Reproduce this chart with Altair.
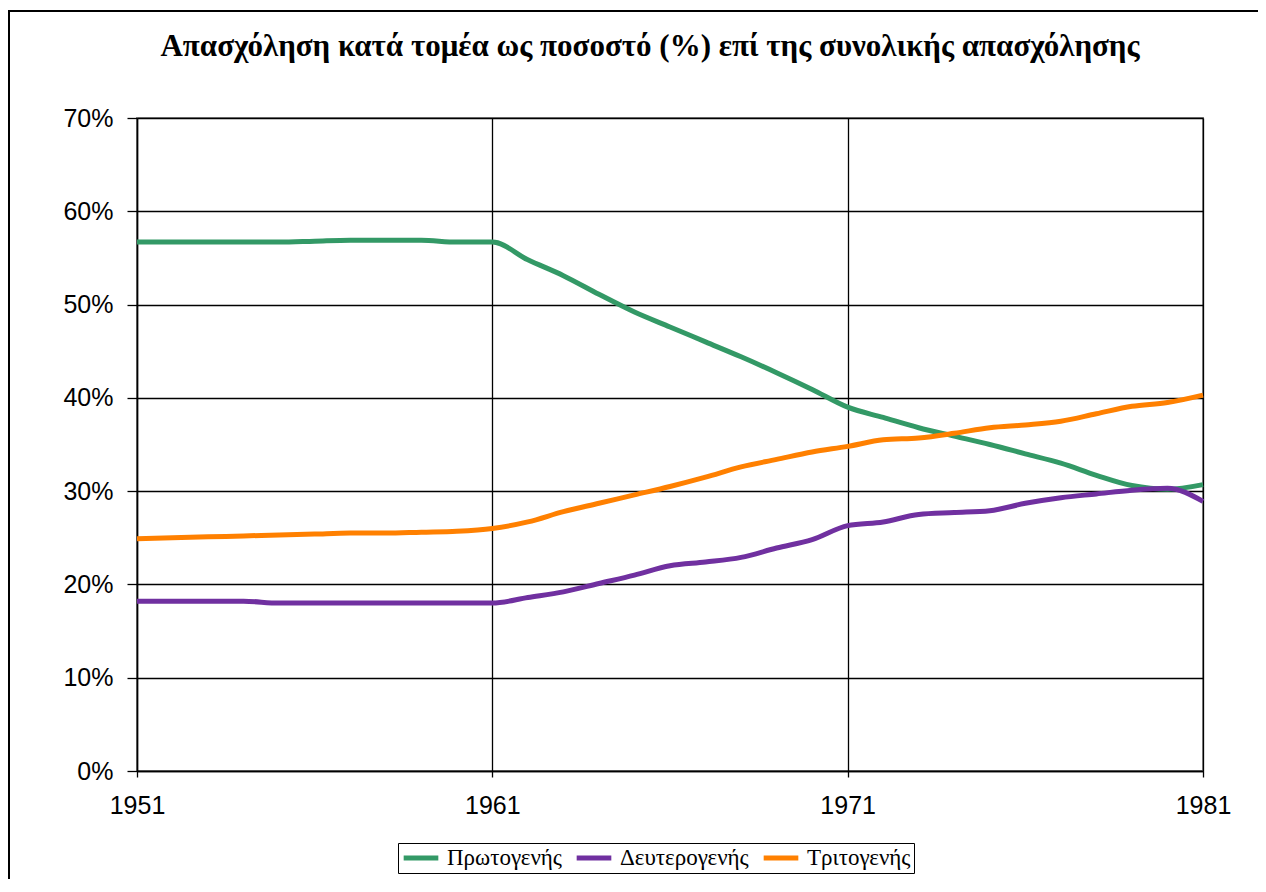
import altair as alt
import pandas as pd

years = list(range(1951, 1982))
sectors = ["Πρωτογενής", "Δευτερογενής", "Τριτογενής"]
colors = ["#339966", "#7030A0", "#FF8000"]

primary = [56.7, 56.7, 56.7, 56.7, 56.7, 56.8, 56.9, 56.9, 56.9, 56.7, 56.7,
           54.8, 53.1, 51.1, 49.2, 47.6, 46.0, 44.4, 42.7, 40.9, 39.0,
           37.9, 36.8, 35.9, 35.0, 34.0, 33.0, 31.7, 30.6, 30.2, 30.7]
secondary = [18.2, 18.2, 18.2, 18.2, 18.0, 18.0, 18.0, 18.0, 18.0, 18.0, 18.0,
             18.6, 19.2, 20.1, 21.0, 22.0, 22.4, 22.9, 23.9, 24.8, 26.3,
             26.7, 27.5, 27.7, 27.9, 28.7, 29.3, 29.7, 30.1, 30.3, 28.9]
tertiary = [24.9, 25.0, 25.1, 25.2, 25.3, 25.4, 25.5, 25.5, 25.6, 25.7, 26.0,
            26.7, 27.8, 28.7, 29.6, 30.5, 31.5, 32.6, 33.4, 34.2, 34.8,
            35.5, 35.7, 36.2, 36.8, 37.1, 37.5, 38.3, 39.1, 39.5, 40.3]
x_ticks = [1951, 1961, 1971, 1981]
y_ticks = [0, 10, 20, 30, 40, 50, 60, 70]
title_text = "Απασχόληση κατά τομέα ως ποσοστό (%) επί της συνολικής απασχόλησης"

rows = []
for name, vals in zip(sectors, [primary, secondary, tertiary]):
    for yr, v in zip(years, vals):
        rows.append({"year": yr, "value": v, "sector": name})
df = pd.DataFrame(rows)

W, H = 1066, 653

lines = alt.Chart(df).mark_line(strokeWidth=5, interpolate="monotone").encode(
    x=alt.X("year:Q",
            scale=alt.Scale(domain=[1951, 1981], nice=False, zero=False),
            axis=alt.Axis(values=x_ticks, format="d", title=None, tickSize=6,
                          labelPadding=16, grid=True, labelFlush=False)),
    y=alt.Y("value:Q",
            scale=alt.Scale(domain=[0, 70], nice=False),
            axis=alt.Axis(values=y_ticks, labelExpr="datum.value + '%'", title=None,
                          tickSize=10, labelPadding=14, grid=True)),
    color=alt.Color("sector:N",
                    scale=alt.Scale(domain=sectors, range=colors),
                    legend=alt.Legend(title=None, orient="none", legendX=261, legendY=725,
                                      direction="horizontal", strokeColor="black",
                                      padding=3, symbolType="stroke", symbolStrokeWidth=5,
                                      symbolSize=1200, labelFont="Liberation Serif",
                                      labelFontSize=23, labelColor="black",
                                      columnPadding=12, labelOffset=6, rowPadding=0,
                                      clipHeight=24)),
)

frame = alt.Chart(pd.DataFrame({"a": [0]})).mark_rect(
    filled=False, stroke="black", strokeWidth=2
).encode(
    x=alt.value(-128), x2=alt.value(W + 200),
    y=alt.value(-107), y2=alt.value(H + 300),
)

title = alt.Chart(pd.DataFrame({"t": [title_text]})).mark_text(
    font="Liberation Serif", fontSize=31, fontWeight="bold", color="black",
    align="center", baseline="alphabetic"
).encode(
    text="t:N", x=alt.value(513), y=alt.value(-62),
)

chart = alt.layer(frame, lines, title).properties(
    width=W, height=H,
    autosize=alt.AutoSizeParams(type="none"),
    padding={"left": 129, "top": 110, "right": 55, "bottom": 108},
).configure_axis(
    gridColor="#000000", gridWidth=1.3, gridOpacity=1,
    domainColor="#000000", domainWidth=1.5, tickColor="#000000", tickWidth=1.3,
    labelFont="Liberation Sans", labelFontSize=25, labelColor="black",
).configure_view(stroke="#888888", strokeWidth=2)

chart.save("out.html", embed_options={"renderer": "svg", "actions": False})
